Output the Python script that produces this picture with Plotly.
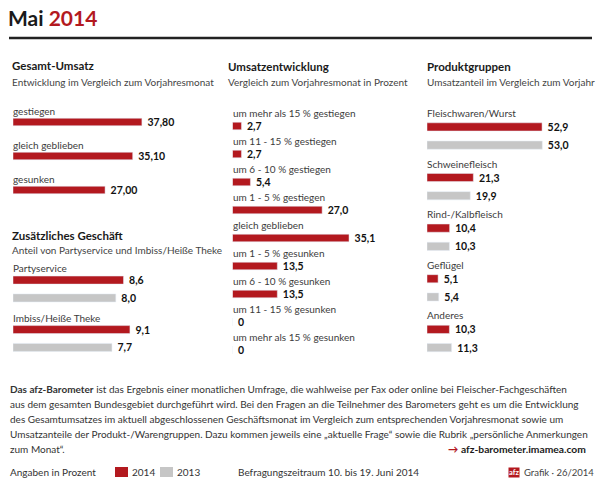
import plotly.graph_objects as go

# ---------------- data ----------------
umsatz_labels = ["gestiegen", "gleich geblieben", "gesunken"]
umsatz_values = [37.80, 35.10, 27.00]

zusatz_labels = ["Partyservice", "Imbiss/Heiße Theke"]
zusatz_2014 = [8.6, 9.1]
zusatz_2013 = [8.0, 7.7]

entw_labels = ["um mehr als 15 % gestiegen", "um 11 - 15 % gestiegen", "um 6 - 10 % gestiegen",
               "um 1 - 5 % gestiegen", "gleich geblieben", "um 1 - 5 % gesunken",
               "um 6 - 10 % gesunken", "um 11 - 15 % gesunken", "um mehr als 15 % gesunken"]
entw_values = [2.7, 2.7, 5.4, 27.0, 35.1, 13.5, 13.5, 0, 0]

prod_labels = ["Fleischwaren/Wurst", "Schweinefleisch", "Rind-/Kalbfleisch", "Geflügel", "Anderes"]
prod_2014 = [52.9, 21.3, 10.4, 5.1, 10.3]
prod_2013 = [53.0, 19.9, 10.3, 5.4, 11.3]

series_names = ["2014", "2013"]

# ---------------- style ----------------
W, H = 600, 486
RED = "#b3191f"
GRAY = "#c6c6c6"
FONT = "Lato, Roboto, sans-serif"
LBL = "#3c3c3c"
TXT = "#333333"


def px(x):
    return x / W


def py(y):
    return 1 - y / H


def de(v, d):
    return "0" if v == 0 else f"{v:.{d}f}".replace(".", ",")


def vtext(vals, d):
    return ["\u00a0" + de(v, d) for v in vals]


fig = go.Figure()

valfont = dict(family=FONT, size=10.5, color="#111111", weight="bold")
common = dict(orientation="h", textposition="outside", textfont=valfont, cliponaxis=False,
              constraintext="none", showlegend=False, hoverinfo="skip")

# Panel A
fig.add_trace(go.Bar(y=umsatz_labels, x=umsatz_values, marker_color=RED, width=0.22,
                     text=vtext(umsatz_values, 2), xaxis="x", yaxis="y", **common))
# Panel B
fig.add_trace(go.Bar(y=zusatz_labels, x=zusatz_2014, marker_color=RED, name=series_names[0],
                     text=vtext(zusatz_2014, 1), xaxis="x2", yaxis="y2", **common))
fig.add_trace(go.Bar(y=zusatz_labels, x=zusatz_2013, marker_color=GRAY, name=series_names[1],
                     text=vtext(zusatz_2013, 1), xaxis="x2", yaxis="y2", **common))
# Panel C
fig.add_trace(go.Bar(y=entw_labels, x=entw_values, marker_color=RED, width=0.27,
                     text=vtext(entw_values, 1), xaxis="x3", yaxis="y3", **common))
# Panel D
fig.add_trace(go.Bar(y=prod_labels, x=prod_2014, marker_color=RED, name=series_names[0],
                     text=vtext(prod_2014, 1), xaxis="x4", yaxis="y4", **common))
fig.add_trace(go.Bar(y=prod_labels, x=prod_2013, marker_color=GRAY, name=series_names[1],
                     text=vtext(prod_2013, 1), xaxis="x4", yaxis="y4", **common))


def xax(x0, x1, scale, yname):
    return dict(domain=[px(x0), px(x1)], range=[0, (x1 - x0) / scale], visible=False,
                fixedrange=True, anchor=yname)


def yax(labels, top, bottom, xname):
    n = len(labels)
    return dict(domain=[py(bottom), py(top)], type="category", categoryorder="array",
                categoryarray=labels, range=[n - 0.5, -0.5], visible=False, anchor=xname,
                fixedrange=True)


fig.update_layout(
    width=W, height=H, margin=dict(l=0, r=0, t=0, b=0),
    paper_bgcolor="white", plot_bgcolor="rgba(0,0,0,0)",
    barmode="group", bargap=0.28, bargroupgap=0.55,
    font=dict(family=FONT, size=10, color=TXT),
    xaxis=xax(13, 210, 3.41, "y"), yaxis=yax(umsatz_labels, 105, 207, "x"),
    xaxis2=xax(13, 210, 12.85, "y2"), yaxis2=yax(zusatz_labels, 264.25, 363.25, "x2"),
    xaxis3=xax(232.5, 400, 3.32, "y3"), yaxis3=yax(entw_labels, 112, 364, "x3"),
    xaxis4=xax(427, 595, 2.175, "y4"), yaxis4=yax(prod_labels, 110.7, 363.8, "x4"),
)

ann = []


def note(text, x, y, size=10, color=TXT, xanchor="left", **kw):
    ann.append(dict(text=text, x=px(x), y=py(y), xref="paper", yref="paper", showarrow=False,
                    xanchor=xanchor, yanchor="middle", font=dict(family=FONT, size=size, color=color),
                    borderpad=0, **kw))


# title
note("<b>Mai <span style='color:%s'>2014</span></b>" % RED, 7, 18, size=21, color="#1a1a1a")

# headers
HS, SS = 11.5, 10
note("<b>Gesamt-Umsatz</b>", 11, 65, size=HS, color="#1a1a1a")
note("Entwicklung im Vergleich zum Vorjahresmonat", 11, 82, size=SS, color="#444")
note("<b>Zusätzliches Geschäft</b>", 11, 235, size=HS, color="#1a1a1a")
note("Anteil von Partyservice und Imbiss/Heiße Theke", 11, 250, size=SS, color="#444")
note("<b>Umsatzentwicklung</b>", 227, 67, size=HS, color="#1a1a1a")
note("Vergleich zum Vorjahresmonat in Prozent", 227, 82, size=SS, color="#444")
note("<b>Produktgruppen</b>", 426, 67, size=HS, color="#1a1a1a")
note("Umsatzanteil im Vergleich zum Vorjahr", 426, 82, size=SS, color="#444")


def cat_labels(labels, xref, yref, shift):
    for lab in labels:
        ann.append(dict(text=lab, x=0, y=lab, xref=xref, yref=yref, showarrow=False,
                        xanchor="left", yanchor="middle", yshift=shift, xshift=-1, borderpad=0,
                        font=dict(family=FONT, size=10, color=LBL)))


cat_labels(umsatz_labels, "x", "y", 11)
cat_labels(zusatz_labels, "x2", "y2", 21)
cat_labels(entw_labels, "x3", "y3", 13)
cat_labels(prod_labels, "x4", "y4", 23)

# footer text
foot = [
    "<b>Das afz-Barometer</b> ist das Ergebnis einer monatlichen Umfrage, die wahlweise per Fax oder online bei Fleischer-Fachgeschäften",
    "aus dem gesamten Bundesgebiet durchgeführt wird. Bei den Fragen an die Teilnehmer des Barometers geht es um die Entwicklung",
    "des Gesamtumsatzes im aktuell abgeschlossenen Geschäftsmonat im Vergleich zum entsprechenden Vorjahresmonat sowie um",
    "Umsatzanteile der Produkt-/Warengruppen. Dazu kommen jeweils eine „aktuelle Frage“ sowie die Rubrik „persönliche Anmerkungen",
    "zum Monat“.",
]
for i, line in enumerate(foot):
    note(line, 9, 389 + 15 * i, size=10, color="#333")
note("<span style='color:%s'><b>→</b></span> <b>afz-barometer.imamea.com</b>" % RED, 587, 449,
     size=10.3, color="#1a1a1a", xanchor="right")

# legend row
note("Angaben in Prozent", 9, 472, size=10, color="#333")
note(series_names[0], 131, 472, size=10, color="#333")
note(series_names[1], 176, 472, size=10, color="#333")
note("Befragungszeitraum 10. bis 19. Juni 2014", 237, 472, size=10, color="#333")
note("<b>afz</b>", 508, 472, size=7.5, color="white", bgcolor=RED)
note("Grafik · 26/2014", 523, 472, size=9.5, color="#444")

fig.update_layout(annotations=ann)

shapes = [
    dict(type="line", xref="paper", yref="paper", x0=px(9), x1=px(592), y0=py(38), y1=py(38),
         line=dict(color="#222", width=2.5)),
    dict(type="rect", xref="paper", yref="paper", x0=px(115), x1=px(128), y0=py(477), y1=py(467),
         fillcolor=RED, line=dict(width=0)),
    dict(type="rect", xref="paper", yref="paper", x0=px(160), x1=px(173), y0=py(477), y1=py(467),
         fillcolor=GRAY, line=dict(width=0)),
]
fig.update_layout(shapes=shapes)

fig.write_html("out.html", config={"displayModeBar": False},
               post_script="document.body.style.margin='0';document.body.style.padding='0';")
